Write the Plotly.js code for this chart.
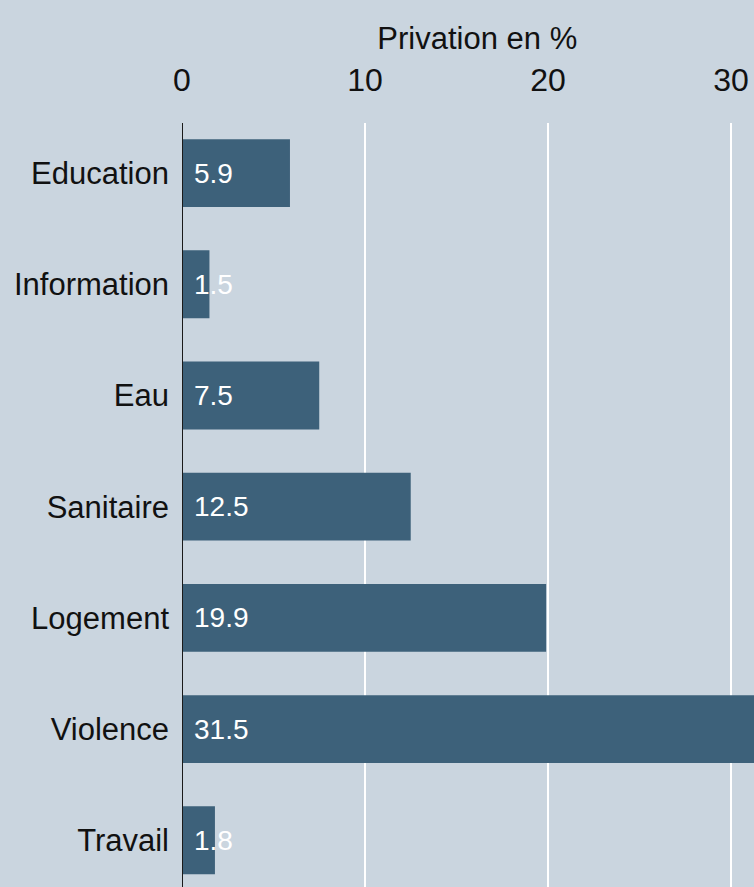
<!DOCTYPE html>
<html>
<head>
<meta charset="utf-8">
<script src="https://cdn.plot.ly/plotly-3.0.1.min.js"></script>
<style>
html,body{margin:0;padding:0;background:#cad5df;}
#chart{width:754px;height:887px;}
</style>
</head>
<body>
<div id="chart"></div>
<script>
const categories = ["Education", "Information", "Eau", "Sanitaire", "Logement", "Violence", "Travail"];
const values = [5.9, 1.5, 7.5, 12.5, 19.9, 31.5, 1.8];
const valueLabels = ["5.9", "1.5", "7.5", "12.5", "19.9", "31.5", "1.8"];
const tickValues = [0, 10, 20, 30];
const tickLabels = ["0", "10", "20", "30"];
const axisTitle = "Privation en %";

const FONT = '"Liberation Sans", Arial, Helvetica, sans-serif';

const trace = {
  type: 'bar',
  orientation: 'h',
  x: values,
  y: categories,
  marker: {color: '#3d617a', line: {width: 0}},
  width: 0.61,
  hoverinfo: 'none'
};

const annotations = categories.map((c, i) => ({
  x: 0, y: c, xref: 'x', yref: 'y',
  text: valueLabels[i],
  showarrow: false,
  xanchor: 'left', yanchor: 'middle',
  xshift: 10,
  font: {family: FONT, size: 28, color: '#ffffff'}
}));

const layout = {
  width: 754, height: 887,
  margin: {l: 182, r: 0, t: 123, b: 0, pad: 0},
  paper_bgcolor: '#cad5df',
  plot_bgcolor: '#cad5df',
  showlegend: false,
  font: {family: FONT, color: '#111111'},
  title: {
    text: axisTitle,
    font: {family: FONT, size: 31, color: '#111111'},
    xref: 'container', yref: 'container',
    x: 0.633, xanchor: 'center',
    y: 0.957, yanchor: 'middle',
    pad: {t: 0, b: 0, l: 0, r: 0}
  },
  xaxis: {
    side: 'top',
    range: [0, 31.26],
    tickvals: tickValues,
    ticktext: tickLabels,
    tickfont: {family: FONT, size: 32, color: '#111111'},
    ticks: '',
    ticklabelstandoff: 25,
    showgrid: true,
    gridcolor: '#ffffff',
    gridwidth: 2,
    zeroline: false,
    showline: false
  },
  yaxis: {
    type: 'category',
    range: [6.42, -0.45],
    tickfont: {family: FONT, size: 31, color: '#111111'},
    ticks: '',
    ticklabelstandoff: 12,
    showgrid: false,
    zeroline: false,
    showline: false
  },
  shapes: [{
    type: 'line', xref: 'x', yref: 'paper',
    x0: 0, x1: 0, y0: 0, y1: 1,
    line: {color: '#1a1a1a', width: 2},
    layer: 'above'
  }],
  annotations: annotations
};

Plotly.newPlot('chart', [trace], layout, {displayModeBar: false, staticPlot: true});
</script>
</body>
</html>
